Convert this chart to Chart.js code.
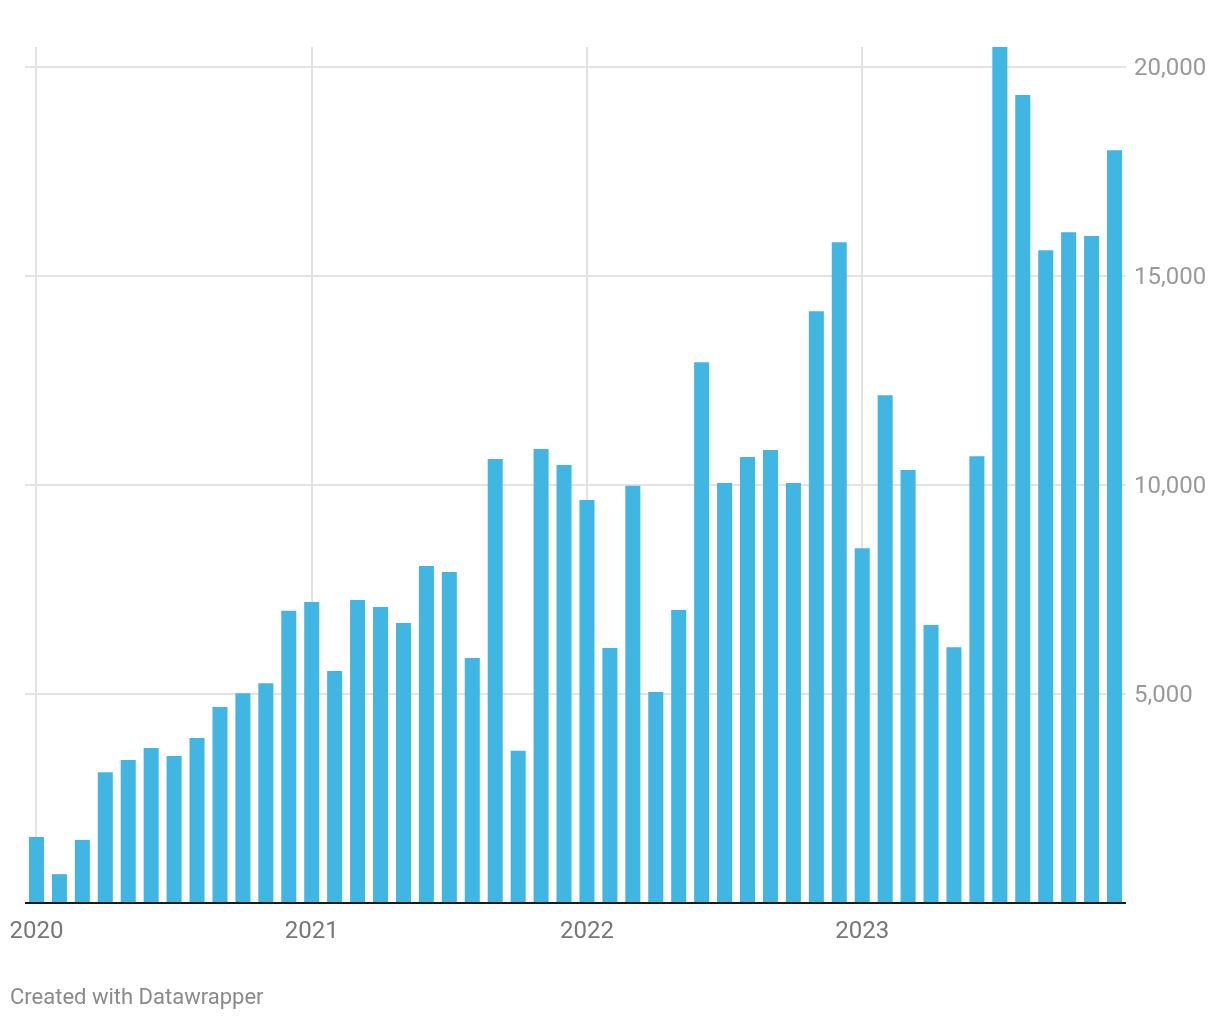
<!DOCTYPE html>
<html>
<head>
<meta charset="utf-8">
<script src="https://cdn.jsdelivr.net/npm/chart.js@4/dist/chart.umd.min.js"></script>
<style>
  body { margin: 0; background: #fff; font-family: Roboto, sans-serif; }
  #wrap { position: relative; width: 1220px; height: 1020px; }
  #footer { position: absolute; left: 10px; top: 984px; font-size: 22px; color: #8a8a8a; }
</style>
</head>
<body>
<div id="wrap">
  <canvas id="chart" width="1220" height="1020"></canvas>
  <div id="footer">Created with Datawrapper</div>
</div>
<script>
// Monthly values, Jan 2020 - Dec 2023
const years = ['2020', '2021', '2022', '2023'];
const months = [];
years.forEach(y => { for (let m = 1; m <= 12; m++) months.push(y + '-' + m); });

const values = [
  1580, 690, 1510, 3130, 3420, 3710, 3520, 3950, 4690, 5020, 5260, 6990,
  7200, 5550, 7250, 7080, 6700, 8060, 7920, 5860, 10620, 3640, 10860, 10480,
  9640, 6100, 9980, 5050, 7010, 12940, 10050, 10670, 10840, 10050, 14160, 15810,
  8490, 12150, 10360, 6650, 6120, 10690, 20480, 19330, 15620, 16050, 15960, 18010
];

const yTicks = [0, 5000, 10000, 15000, 20000];
const yMax = 20480;

const isJan = i => months[i].endsWith('-1');

const ctx = document.getElementById('chart').getContext('2d');
new Chart(ctx, {
  type: 'bar',
  data: {
    labels: months,
    datasets: [{
      data: values,
      backgroundColor: '#41b6e3',
      barPercentage: 0.655,
      categoryPercentage: 1.0
    }]
  },
  options: {
    responsive: false,
    animation: false,
    layout: { padding: { top: 47, left: 25, right: 0, bottom: 0 } },
    plugins: { legend: { display: false }, tooltip: { enabled: false } },
    scales: {
      x: {
        offset: true,
        grid: {
          offset: false,
          drawTicks: false,
          color: c => isJan(c.index) ? '#e3e3e3' : 'rgba(0,0,0,0)',
          lineWidth: 2
        },
        border: { display: false },
        ticks: {
          autoSkip: false,
          maxRotation: 0,
          padding: 15,
          color: '#777',
          font: { family: 'Roboto', size: 24 },
          callback: (v, i) => isJan(i) ? months[i].slice(0, 4) : ''
        },
        afterFit: s => { s.height = 117; s.paddingLeft = 0; s.paddingRight = 0; }
      },
      y: {
        position: 'right',
        min: 0,
        max: yMax,
        afterBuildTicks: s => { s.ticks = yTicks.map(v => ({ value: v })); },
        grid: {
          drawTicks: false,
          color: c => c.tick.value === 0 ? '#1a1a1a' : '#e3e3e3',
          lineWidth: 2
        },
        border: { display: false },
        ticks: {
          padding: 8,
          labelOffset: 2,
          color: '#999',
          font: { family: 'Roboto', size: 24 },
          callback: v => v === 0 ? '' : v.toLocaleString('en-US')
        },
        afterFit: s => { s.width = 94; s.paddingTop = 0; s.paddingBottom = 0; }
      }
    }
  }
});
</script>
</body>
</html>
